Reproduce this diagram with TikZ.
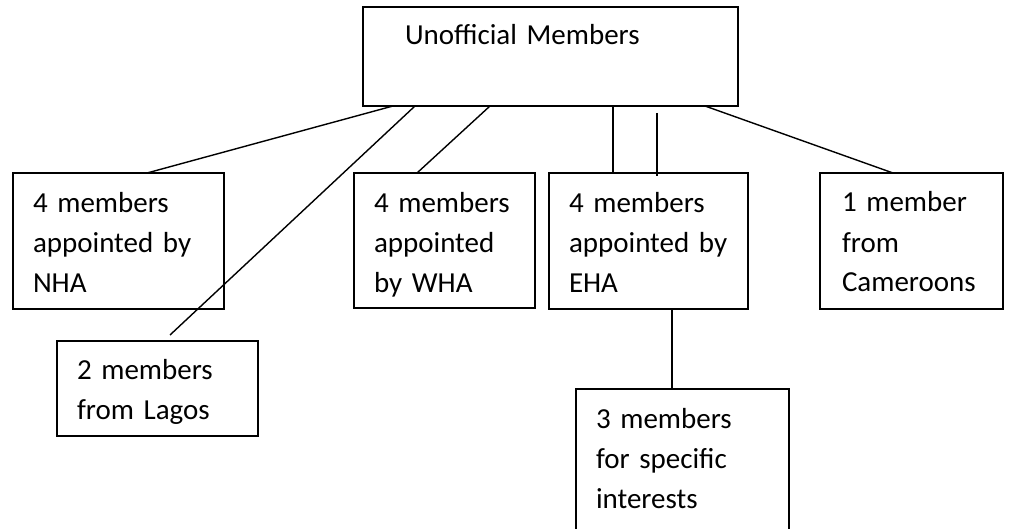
\documentclass[tikz,border=0pt]{standalone}
\usepackage{fontspec}
\setmainfont{Carlito}
\begin{document}
\begin{tikzpicture}[x=1pt,y=-1pt,
  box/.style={draw=black, line width=1.6pt, outer sep=0pt, inner xsep=20pt,
    inner ysep=0pt, anchor=north west,
    font=\fontsize{29}{40}\selectfont, text=black},
  link/.style={draw=black, line width=1.4pt}]
\clip (0,0) rectangle (1011,529);
\fill[white] (0,0) rectangle (1011,529);

% boxes: width = text width + 2*inner xsep, height = text height + text depth
\node[box, inner xsep=42pt, text width=291pt, text height=38pt, text depth=61pt]
  (top) at (363,7) {Unofficial Members};
\node[box, text width=171pt, text height=40pt, text depth=96pt]
  (nha) at (13,173) {4 members\\appointed by\\NHA};
\node[box, text width=161pt, text height=38pt, text depth=57pt]
  (lagos) at (57,341) {2 members\\from Lagos};
\node[box, text width=141pt, text height=40pt, text depth=95pt]
  (wha) at (354,173) {4 members\\appointed\\by WHA};
\node[box, text width=159pt, text height=40pt, text depth=96pt]
  (eha) at (549,173) {4 members\\appointed by\\EHA};
\node[box, inner xsep=22pt, text width=139pt, text height=39pt, text depth=97pt]
  (cam) at (820,173) {1 member\\from\\Cameroons};
\node[box, text width=173pt, text height=39pt, text depth=111pt]
  (spec) at (576,389) {3 members\\for specific\\interests};

% connectors
\draw[link] ([shift={(30,0)}]top.south west) -- ([shift={(134,0)}]nha.north west);
\draw[link] ([shift={(52,0)}]top.south west) -- ([shift={(113,-6)}]lagos.north west);
\draw[link] ([shift={(127,0)}]top.south west) -- ([shift={(63,0)}]wha.north west);
\draw[link] ([shift={(250,0)}]top.south west) -- ([shift={(64,0)}]eha.north west);
\draw[link] ([shift={(294,7)}]top.south west) -- ([shift={(108,3)}]eha.north west);
\draw[link] ([shift={(342,0)}]top.south west) -- ([shift={(73,0)}]cam.north west);
\draw[link] ([shift={(123,0)}]eha.south west) -- ([shift={(96,0)}]spec.north west);
\end{tikzpicture}
\end{document}
